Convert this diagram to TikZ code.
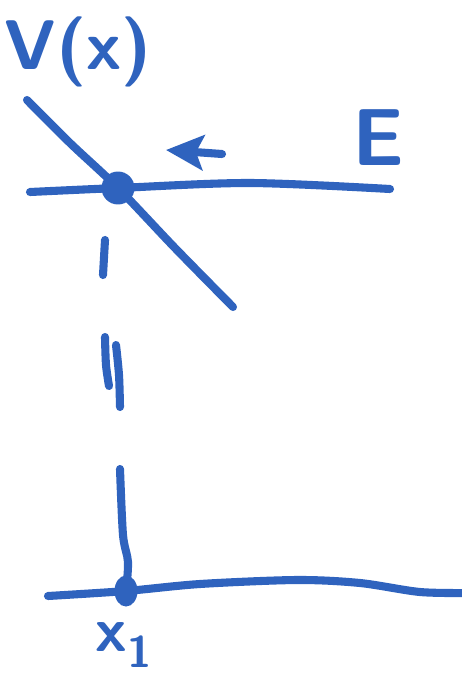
\documentclass[tikz,border=0pt]{standalone}
\usetikzlibrary{arrows.meta, shapes.geometric}

\definecolor{ink}{RGB}{47,99,190}

\begin{document}
\begin{tikzpicture}[x=0.02cm, y=-0.02cm,
  pen/.style={draw=ink, line width=4.6pt, line cap=round, line join=round},
  blob/.style={circle, fill=ink, inner sep=0pt, minimum size=0.66cm},
  hand/.style={text=ink, inner sep=0pt,
               font=\sffamily\bfseries\fontsize{40}{48}\selectfont}
]
\useasboundingbox (0,0) rectangle (462,676);

% points on the curve and on the axis
\node[blob] (top) at (118,188) {};
\node[blob, ellipse, minimum width=0.46cm, minimum height=0.62cm] (foot) at (126,591) {};

% labels
\node[hand] (vlab) at (78,52) {V(x)};
\node[hand, font=\sffamily\bfseries\fontsize{46}{54}\selectfont] (elab) at (378,138) {E};
\node[hand, font=\sffamily\bfseries\fontsize{36}{44}\selectfont] (xlab) at (124,645) {x\textsubscript{1}};

% energy level and potential
\draw[pen] plot[smooth] coordinates {(30,192) (top.center) (250,183) (390,189)};
\draw[pen] plot[smooth] coordinates {(27,100) (70,143) (top.center) (175,248) (233,307)};
\draw[pen, -{Stealth[length=0.75cm, width=0.7cm, inset=0.15cm]}] (222,154) -- (166,150);

% drop to the axis
\draw[pen] (105,240) -- (103,275);
\draw[pen] plot[smooth] coordinates {(105,337) (106,365) (109,386)};
\draw[pen] plot[smooth] coordinates {(116,345) (119,375) (120,407)};
\draw[pen] plot[smooth] coordinates {(120,469) (123,535) (128,562) (foot.center)};

% x axis
\draw[pen] plot[smooth] coordinates {(48,596) (foot.center) (200,584) (297,580) (360,583) (420,592) (470,593)};
\end{tikzpicture}
\end{document}
